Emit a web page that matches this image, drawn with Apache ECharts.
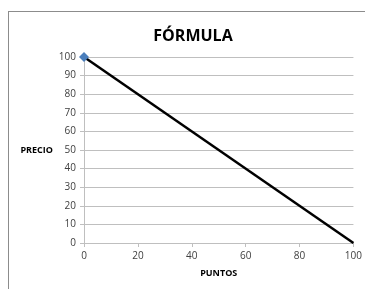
<!DOCTYPE html>
<html>
<head>
<meta charset="utf-8">
<script src="https://cdn.jsdelivr.net/npm/echarts@6/dist/echarts.min.js"></script>
<style>
  html, body { margin: 0; padding: 0; background: #fff; }
  #frame { position: absolute; left: 8px; top: 11px; width: 360px; height: 290px;
           border-left: 1px solid #8c8c8c; border-top: 1px solid #8c8c8c; }
  #chart { position: absolute; left: 0; top: 0; width: 365px; height: 289px; }
</style>
</head>
<body>
<div id="frame"></div>
<div id="chart"></div>
<script>
// datos de la recta
var puntos = [0, 100];
var precio = [100, 0];
var xTicks = [0, 20, 40, 60, 80, 100];
var yTicks = [0, 10, 20, 30, 40, 50, 60, 70, 80, 90, 100];

var font = 'Open Sans, Liberation Sans, sans-serif';
var myChart = echarts.init(document.getElementById('chart'));

var lineData = puntos.map(function (p, i) {
  return {
    value: [p, precio[i]],
    symbol: i === 0 ? 'diamond' : 'none', // solo el primer punto tiene marcador
    symbolSize: 10
  };
});

var option = {
  animation: false,
  title: {
    text: 'FÓRMULA',
    left: 188, top: 23,
    textAlign: 'center',
    textStyle: { fontFamily: font, fontSize: 16, fontWeight: 'bold', color: '#000' }
  },
  grid: { left: 84, right: 9, top: 57, bottom: 46 },
  xAxis: {
    type: 'value',
    min: xTicks[0], max: xTicks[xTicks.length - 1], interval: 20,
    name: 'PUNTOS', nameLocation: 'middle', nameGap: 26,
    nameTextStyle: { fontFamily: font, fontSize: 9, fontWeight: 'bold', color: '#000' },
    axisLine: { show: true, lineStyle: { color: '#bfbfbf' } },
    axisTick: { show: true, length: 4, lineStyle: { color: '#bfbfbf' } },
    axisLabel: { fontFamily: font, fontSize: 10, color: '#404040', margin: 8 },
    splitLine: { show: false }
  },
  yAxis: {
    type: 'value',
    min: yTicks[0], max: yTicks[yTicks.length - 1], interval: 10,
    name: 'PRECIO', nameLocation: 'middle', nameGap: 28, nameRotate: 0,
    nameTextStyle: { fontFamily: font, fontSize: 9, fontWeight: 'bold', color: '#000', align: 'right' },
    axisLine: { show: true, lineStyle: { color: '#bfbfbf' } },
    axisTick: { show: true, length: 4, lineStyle: { color: '#bfbfbf' } },
    axisLabel: { fontFamily: font, fontSize: 10, color: '#404040', margin: 8 },
    splitLine: { show: true, lineStyle: { color: '#bfbfbf', width: 1 } }
  },
  series: [{
    type: 'line',
    data: lineData,
    lineStyle: { color: '#000', width: 2.5 },
    itemStyle: { color: '#4a7ebb' },
    z: 3
  }]
};
myChart.setOption(option);
</script>
</body>
</html>
